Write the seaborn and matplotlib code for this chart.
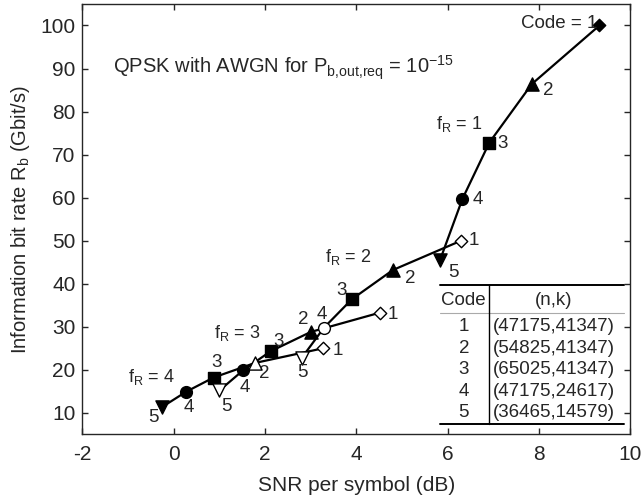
import numpy as np
import pandas as pd
import matplotlib
matplotlib.use("Agg")
import matplotlib.pyplot as plt
import seaborn as sns

# ---------------- data ----------------
fr_values = [1, 2, 3, 4]
codes = [1, 2, 3, 4, 5]
# SNR per symbol (dB) for codes 1..5, one list per f_R
snr_fr1 = [9.32, 7.84, 6.91, 6.32, 5.83]
snr_fr2 = [6.29, 4.80, 3.90, 3.29, 2.80]
snr_fr3 = [4.52, 3.00, 2.12, 1.52, 1.00]
snr_fr4 = [3.27, 1.78, 0.87, 0.27, -0.25]
# information bit rate (Gbit/s)
rate_fr1 = [100.0, 86.4, 72.8, 59.7, 45.5]
rate_fr2 = [50.0, 43.2, 36.4, 29.8, 22.75]
rate_fr3 = [33.3, 28.8, 24.3, 19.9, 15.2]
rate_fr4 = [25.0, 21.6, 18.2, 14.9, 11.4]
# filled (True) or open (False) marker
filled_fr1 = [True, True, True, True, True]
filled_fr2 = [False, True, True, False, False]
filled_fr3 = [False, True, True, True, False]
filled_fr4 = [False, False, True, True, True]
# point labels
point_labels_fr1 = ["Code = 1", "2", "3", "4", "5"]
point_labels_other = ["1", "2", "3", "4", "5"]
# table
table_codes = ["1", "2", "3", "4", "5"]
table_nk = ["(47175,41347)", "(54825,41347)", "(65025,41347)",
            "(47175,24617)", "(36465,14579)"]

# ---------------- styles / positions ----------------
marker_of_code = {1: "D", 2: "^", 3: "s", 4: "o", 5: "v"}
size_of_code = {1: 40, 2: 90, 3: 72, 4: 72, 5: 90}
# label offsets in pixels, per f_R, per code
label_offsets = {
    1: [(-2, 2), (16, -6), (13, -1), (15, -1), (13, -12)],
    2: [(13, 0), (17, -9), (-10, 9), (-2, 13), (1, -15)],
    3: [(13, -2), (-8, 12), (8, 10), (2, -17), (7, -16)],
    4: [(15, -2), (9, -11), (3, 15), (3, -16), (-9, -11)],
}
fr_text_pos = {1: (6.24, 77.2), 2: (3.81, 46.3), 3: (1.39, 28.5), 4: (-0.49, 18.4)}

snr_all = [snr_fr1, snr_fr2, snr_fr3, snr_fr4]
rate_all = [rate_fr1, rate_fr2, rate_fr3, rate_fr4]
fill_all = [filled_fr1, filled_fr2, filled_fr3, filled_fr4]

rows = []
for fr, s_list, r_list, f_list in zip(fr_values, snr_all, rate_all, fill_all):
    for c, s, r, f in zip(codes, s_list, r_list, f_list):
        rows.append(dict(fR=fr, code=c, snr=s, rate=r, filled=f))
df = pd.DataFrame(rows)

# ---------------- plot ----------------
sns.set_style("ticks")
plt.rcParams["font.family"] = ["Liberation Sans", "DejaVu Sans"]
plt.rcParams["mathtext.fontset"] = "custom"
plt.rcParams["mathtext.rm"] = "Liberation Sans"
plt.rcParams["mathtext.it"] = "Liberation Sans:italic"
plt.rcParams["axes.unicode_minus"] = False

fig = plt.figure(figsize=(6.44, 4.97), dpi=100)
ax = fig.add_axes([0.128, 0.126, 0.851, 0.866])

sns.lineplot(data=df, x="snr", y="rate", units="fR", estimator=None, sort=False,
             color="black", lw=1.6, ax=ax, legend=False, zorder=2)

for c in codes:
    for f in (True, False):
        sub = df[(df.code == c) & (df.filled == f)]
        if sub.empty:
            continue
        sns.scatterplot(data=sub, x="snr", y="rate", marker=marker_of_code[c],
                        s=size_of_code[c], color="black" if f else "white",
                        edgecolor="black", linewidth=1.0, ax=ax, legend=False,
                        zorder=3)

# point labels
for fr in fr_values:
    sub = df[df.fR == fr].sort_values("code")
    labels = point_labels_fr1 if fr == 1 else point_labels_other
    for (_, row), lab, off in zip(sub.iterrows(), labels, label_offsets[fr]):
        ha = "right" if lab.startswith("Code") else "center"
        ax.annotate(lab, (row.snr, row.rate), xytext=off, textcoords="offset pixels",
                    ha=ha, va="center", fontsize=13.5, zorder=4)

for fr in fr_values:
    x, y = fr_text_pos[fr]
    ax.text(x, y, r"f$_\mathregular{R}$ = %d" % fr, ha="center", va="center",
            fontsize=13)

ax.text(-1.33, 88.9,
        r"QPSK with AWGN for P$_\mathregular{b{,}out{,}req}$ = 10$^\mathregular{-15}$",
        ha="left", va="baseline", fontsize=14.5)

# table
tx0, tx1, tdiv = 5.83, 9.86, 6.9
ax.plot([tx0, tx1], [39.7, 39.7], color="black", lw=1.4)
ax.plot([tx0, tx1], [7.4, 7.4], color="black", lw=1.4)
ax.plot([tx0, tx1], [33.2, 33.2], color="#aaaaaa", lw=0.8)
ax.plot([tdiv, tdiv], [7.4, 39.7], color="black", lw=1.0)
ax.text(6.35, 36.0, "Code", ha="center", va="center", fontsize=13.5)
ax.text(8.32, 36.0, "(n,k)", ha="center", va="center", fontsize=13.5)
row_y = [30, 25, 20, 15, 10]
for yy, cc, nk in zip(row_y, table_codes, table_nk):
    ax.text(6.35, yy, cc, ha="center", va="center", fontsize=13.5)
    ax.text(8.32, yy, nk, ha="center", va="center", fontsize=13.5)

ax.set_xlim(-2, 10)
ax.set_ylim(5, 105)
ax.set_xticks(np.arange(-2, 11, 2))
ax.set_yticks(np.arange(10, 101, 10))
ax.tick_params(direction="in", top=True, right=True, length=4, width=1,
               labelsize=15)
ax.tick_params(axis="x", pad=8)
ax.tick_params(axis="y", pad=5)
for sp in ax.spines.values():
    sp.set_linewidth(1.0)
    sp.set_visible(True)
ax.set_xlabel("SNR per symbol (dB)", fontsize=15, labelpad=8)
ax.set_ylabel(r"Information bit rate R$_\mathregular{b}$ (Gbit/s)", fontsize=14.5, labelpad=6)

fig.savefig("out.png", dpi=100)
